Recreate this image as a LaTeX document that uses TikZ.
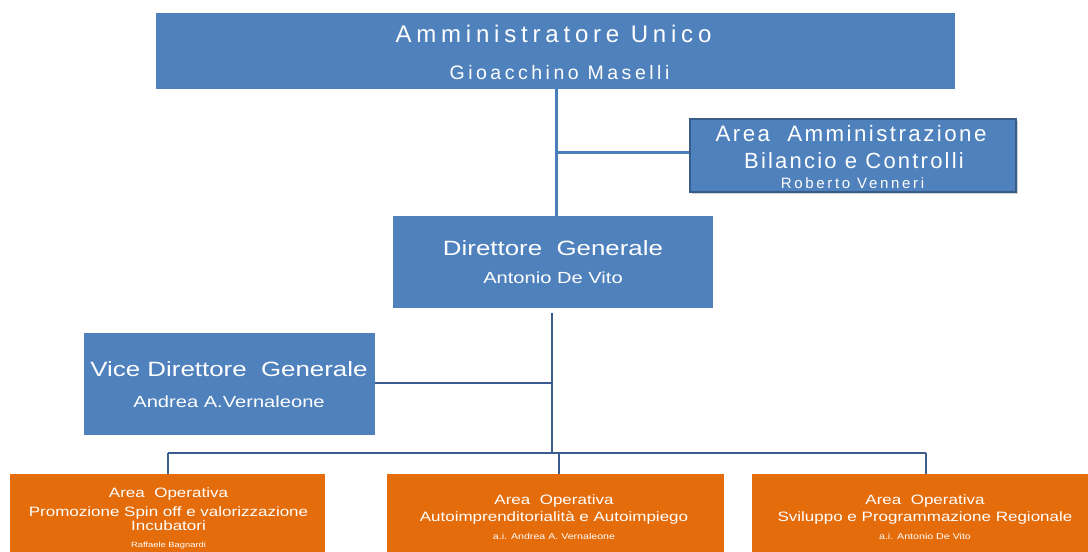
\documentclass[tikz,border=0pt]{standalone}
\usepackage{fontspec}
\setmainfont{Liberation Sans}
\newfontfamily\fTa[LetterSpace=20]{Liberation Sans}
\newfontfamily\fTb[LetterSpace=18]{Liberation Sans}
\newfontfamily\fAa[LetterSpace=11]{Liberation Sans}
\newfontfamily\fAb[LetterSpace=10]{Liberation Sans}
\newfontfamily\fAc[LetterSpace=18]{Liberation Sans}
\newfontfamily\fW[FakeStretch=1.25]{Liberation Sans}
\usetikzlibrary{shadows}
\definecolor{boxblue}{HTML}{4F81BD}
\definecolor{boxedge}{HTML}{385D8A}
\definecolor{boxorange}{HTML}{E46C0A}
\definecolor{lineblue}{HTML}{4A7EBB}
\definecolor{linedark}{HTML}{3A5C8E}
\tikzset{
  bluebox/.style={rectangle, fill=boxblue, inner sep=0pt},
  orangebox/.style={rectangle, fill=boxorange, inner sep=0pt},
  txt/.style={inner sep=0pt, text=white, anchor=base},
  connA/.style={draw=lineblue, line width=3pt},
  connB/.style={draw=linedark, line width=2.5pt},
}
\begin{document}
\begin{tikzpicture}[x=1pt,y=-1pt]
\useasboundingbox (0,0) rectangle (1088,552);
\fill[white] (0,0) rectangle (1088,552);
% boxes
\node[bluebox, minimum width=799pt, minimum height=76pt] (top) at (555.5,51) {};
\node[bluebox, draw=boxedge, line width=2pt, minimum width=326pt, minimum height=73pt,
  drop shadow={shadow xshift=2pt, shadow yshift=-2pt, fill=black!35, opacity=0.5}] (area) at (853,155.5) {};
\node[bluebox, minimum width=320pt, minimum height=92pt] (dg) at (553,262) {};
\node[bluebox, minimum width=291pt, minimum height=102pt] (vice) at (229.5,384) {};
\node[orangebox, minimum width=315pt, minimum height=90pt] (ol) at (167.5,519) {};
\node[orangebox, minimum width=337pt, minimum height=90pt] (om) at (555.5,519) {};
\node[orangebox, minimum width=346pt, minimum height=90pt] (or) at (925,519) {};
% texts
\node[txt, font=\fTa\fontsize{24}{28}\selectfont] (t1) at (553.5,42.3) {Amministratore Unico};
\node[txt, font=\fTb\fontsize{19.5}{23}\selectfont] (t2) at (559.5,79) {Gioacchino Maselli};
\node[txt, font=\fAa\fontsize{22.3}{26}\selectfont] (a1) at (851,141.3) {Area~~Amministrazione};
\node[txt, font=\fAb\fontsize{22}{26}\selectfont] (a2) at (854,168) {Bilancio e Controlli};
\node[txt, font=\fAc\fontsize{15}{18}\selectfont] (a3) at (852.5,188.7) {Roberto Venneri};
\node[txt, font=\fW\fontsize{20.7}{24}\selectfont] (d1) at (553,255) {Direttore~~Generale};
\node[txt, font=\fW\fontsize{16.1}{19}\selectfont] (d2) at (553,283.3) {Antonio De Vito};
\node[txt, font=\fW\fontsize{20.7}{24}\selectfont] (v1) at (229,376.7) {Vice Direttore~~Generale};
\node[txt, font=\fW\fontsize{16.1}{19}\selectfont] (v2) at (229,407.3) {Andrea A.Vernaleone};
% orange texts
\node[txt, font=\fW\fontsize{13.6}{16}\selectfont] (l1) at (168.5,497) {Area~~Operativa};
\node[txt, font=\fW\fontsize{13.6}{16}\selectfont] (l2) at (168.5,516) {Promozione Spin off e valorizzazione};
\node[txt, font=\fW\fontsize{13.6}{16}\selectfont] (l3) at (168.5,530) {Incubatori};
\node[txt, font=\fW\fontsize{7.5}{9}\selectfont] (l4) at (168.5,547) {Raffaele Bagnardi};
\node[txt, font=\fW\fontsize{13.6}{16}\selectfont] (m1) at (554,504.7) {Area~~Operativa};
\node[txt, font=\fW\fontsize{13.6}{16}\selectfont] (m2) at (554,521.3) {Autoimprenditorialità e Autoimpiego};
\node[txt, font=\fW\fontsize{8.5}{10}\selectfont] (m3) at (554,539.7) {a.i. Andrea A. Vernaleone};
\node[txt, font=\fW\fontsize{13.6}{16}\selectfont] (r1) at (925,504.7) {Area~~Operativa};
\node[txt, font=\fW\fontsize{13.6}{16}\selectfont] (r2) at (925,521.3) {Sviluppo e Programmazione Regionale};
\node[txt, font=\fW\fontsize{8.5}{10}\selectfont] (r3) at (925,539.7) {a.i. Antonio De Vito};
% connectors
\coordinate (j1) at (556,152);
\draw[connA] (top.south -| j1) -- (dg.north -| j1);
\draw[connA] (j1) -- (area.west |- j1);
\coordinate (bus) at (552,453);
\coordinate (bl) at (168,453);
\coordinate (bm) at (559,453);
\coordinate (br) at (926,453);
\draw[connB] ([yshift=-5pt]dg.south -| bus) -- (bus);
\draw[connB] (vice.east |- 0,383) -- (bus |- 0,383);
\draw[connB] (bl) -- (br);
\draw[connB] (bl) -- (ol.north -| bl);
\draw[connB] (bm) -- (om.north -| bm);
\draw[connB] (br) -- (or.north -| br);
\end{tikzpicture}
\end{document}
